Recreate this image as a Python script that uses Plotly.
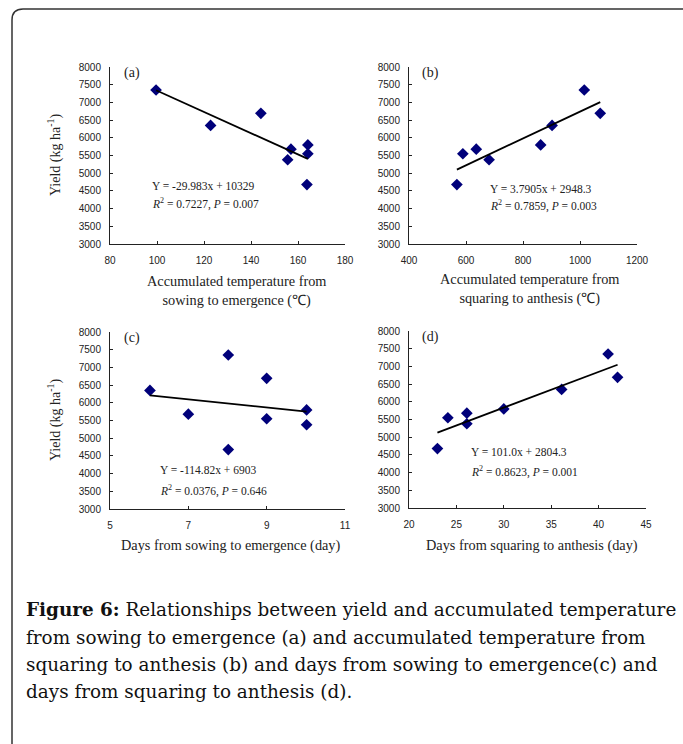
import numpy as np
import plotly.graph_objects as go

# ---- data ----
yield_a = [7350, 6350, 6690, 5380, 5680, 4680, 5800, 5550]
temp_sow_emerg = [99.6, 122.8, 144.2, 155.6, 157.0, 163.8, 164.2, 164.2]

yield_b = [4680, 5550, 5680, 5380, 5800, 6350, 7350, 6690]
temp_squar_anth = [568, 589, 636, 681, 862, 902, 1015, 1071]

yield_c = [6350, 5680, 7350, 4680, 6690, 5550, 5800, 5380]
days_sow_emerg = [6.02, 7.0, 8.02, 8.02, 9.0, 9.0, 10.02, 10.02]

yield_d = [4680, 5550, 5680, 5380, 5800, 6350, 7350, 6690]
days_squar_anth = [23.0, 24.1, 26.1, 26.1, 30.0, 36.1, 41.0, 42.0]

# regression equations shown on the chart
fit_a = (-29.983, 10329)
fit_b = (3.7905, 2948.3)
fit_c = (-114.82, 6903)
fit_d = (101.0, 2804.3)

eq_a = ["Y = -29.983x + 10329", "<i>R</i><sup>2</sup> = 0.7227, <i>P</i> = 0.007"]
eq_b = ["Y = 3.7905x + 2948.3", "<i>R</i><sup>2</sup> = 0.7859, <i>P</i> = 0.003"]
eq_c = ["Y = -114.82x + 6903", "<i>R</i><sup>2</sup> = 0.0376, <i>P</i> = 0.646"]
eq_d = ["Y = 101.0x + 2804.3", "<i>R</i><sup>2</sup> = 0.8623, <i>P</i> = 0.001"]

panel_labels = ["(a)", "(b)", "(c)", "(d)"]
xtitles = [
    "Accumulated temperature from<br>sowing to emergence (℃)",
    "Accumulated temperature from<br>squaring to anthesis (℃)",
    "Days from sowing to emergence (day)",
    "Days from squaring to anthesis (day)",
]
ytitle = "Yield (kg ha<sup>-1</sup>)"
xranges = [(80, 180, 20), (400, 1200, 200), (5, 11, 2), (20, 45, 5)]
yrange = (3000, 8000, 500)

caption_lines = [
    "<b>Figure 6:</b> Relationships between yield and accumulated temperature",
    "from sowing to emergence (a) and accumulated temperature from",
    "squaring to anthesis (b) and days from sowing to emergence(c) and",
    "days from squaring to anthesis (d).",
]

# ---- layout helpers (window pixel -> paper) ----
W, H = 683, 744

def px(x):
    return x / W

def py(y):
    return 1 - y / H

boxes = [  # x0, x1, ytop, ybottom in window pixels
    (110, 345, 67, 244),
    (409, 637, 67, 244),
    (110, 345, 332, 509),
    (409, 646, 331, 508),
]

datasets = [
    (temp_sow_emerg, yield_a, fit_a, eq_a),
    (temp_squar_anth, yield_b, fit_b, eq_b),
    (days_sow_emerg, yield_c, fit_c, eq_c),
    (days_squar_anth, yield_d, fit_d, eq_d),
]

fig = go.Figure()
layout = dict(
    width=W, height=H,
    margin=dict(l=0, r=0, t=0, b=0, pad=0, autoexpand=False),
    paper_bgcolor="white", plot_bgcolor="white", showlegend=False,
)

serif = "Liberation Serif"
sans = "Liberation Sans"

annotations = []
for i, ((xs, ys, (m, b), eq), box, xr) in enumerate(zip(datasets, boxes, xranges)):
    n = "" if i == 0 else str(i + 1)
    xa, ya = "x" + n, "y" + n
    x0, x1, yt, yb = box
    layout["xaxis" + n] = dict(
        domain=[px(x0), px(x1)], range=[xr[0], xr[1]], dtick=xr[2], tick0=xr[0],
        showline=True, linecolor="#222", linewidth=1, ticks="inside", ticklen=3,
        tickcolor="#222", showgrid=False, zeroline=False, anchor=ya,
        ticklabelstandoff=7, automargin=False,
        tickfont=dict(family=sans, size=10, color="#222"),
    )
    layout["yaxis" + n] = dict(
        domain=[py(yb), py(yt)], range=[yrange[0], yrange[1]], dtick=yrange[2],
        showline=True, linecolor="#222", linewidth=1, ticks="inside", ticklen=3,
        tickcolor="#222", showgrid=False, zeroline=False, anchor=xa,
        ticklabelstandoff=6, automargin=False,
        tickfont=dict(family=sans, size=10, color="#222"),
    )
    fig.add_trace(go.Scatter(
        x=xs, y=ys, mode="markers", xaxis=xa, yaxis=ya,
        marker=dict(symbol="diamond", size=9, color="#00007a"),
    ))
    lx = np.array([min(xs), max(xs)])
    fig.add_trace(go.Scatter(
        x=lx, y=m * lx + b, mode="lines", xaxis=xa, yaxis=ya,
        line=dict(color="black", width=1.8),
    ))

# panel labels
label_pos = [(122, 73), (420, 73), (122, 338), (420, 337)]
for lab, (x, y) in zip(panel_labels, label_pos):
    annotations.append(dict(text=lab, x=px(x), y=py(y), xref="paper", yref="paper",
                            xanchor="left", yanchor="middle", showarrow=False,
                            font=dict(family=serif, size=14, color="#222")))

# equations
eq_pos = [(150, 186, 204), (488, 189, 206), (158, 470, 490), (469, 452, 471)]
for (x, y1, y2), (_, _, _, eq) in zip(eq_pos, datasets):
    for t, y in zip(eq, (y1, y2)):
        annotations.append(dict(text=t, x=px(x), y=py(y), xref="paper", yref="paper",
                                xanchor="left", yanchor="middle", showarrow=False,
                                font=dict(family=serif, size=11.5, color="#222")))

# x titles
xt_pos = [(236, 291), (529, 289), (231, 545), (532, 545)]
for t, (x, y) in zip(xtitles, xt_pos):
    annotations.append(dict(text=t, x=px(x), y=py(y), xref="paper", yref="paper",
                            xanchor="center", yanchor="middle", showarrow=False,
                            font=dict(family=serif, size=14.3, color="#222")))

# y titles
for yc in (155, 420):
    annotations.append(dict(text=ytitle, x=px(54), y=py(yc), xref="paper", yref="paper",
                            xanchor="center", yanchor="middle", showarrow=False, textangle=-90,
                            font=dict(family=serif, size=14, color="#222")))

# caption
cap_y = [609, 637, 664, 691]
for t, y in zip(caption_lines, cap_y):
    annotations.append(dict(text=t, x=px(24), y=py(y), xref="paper", yref="paper",
                            xanchor="left", yanchor="middle", showarrow=False,
                            font=dict(family="DejaVu Serif", size=18.4, color="#111")))

layout["annotations"] = annotations

# rounded border frame
r = 11
path = (f"M {px(12)} {py(760)} L {px(12)} {py(9 + r)} "
        f"Q {px(12)} {py(9)} {px(12 + r)} {py(9)} "
        f"L {px(700)} {py(9)}")
layout["shapes"] = [dict(type="path", path=path, xref="paper", yref="paper",
                         line=dict(color="#333", width=1.5))]

fig.update_layout(**layout)
fig.write_html(
    "out.html",
    config={"displayModeBar": False},
    post_script="document.body.style.margin='0';document.body.style.overflow='hidden';",
)
